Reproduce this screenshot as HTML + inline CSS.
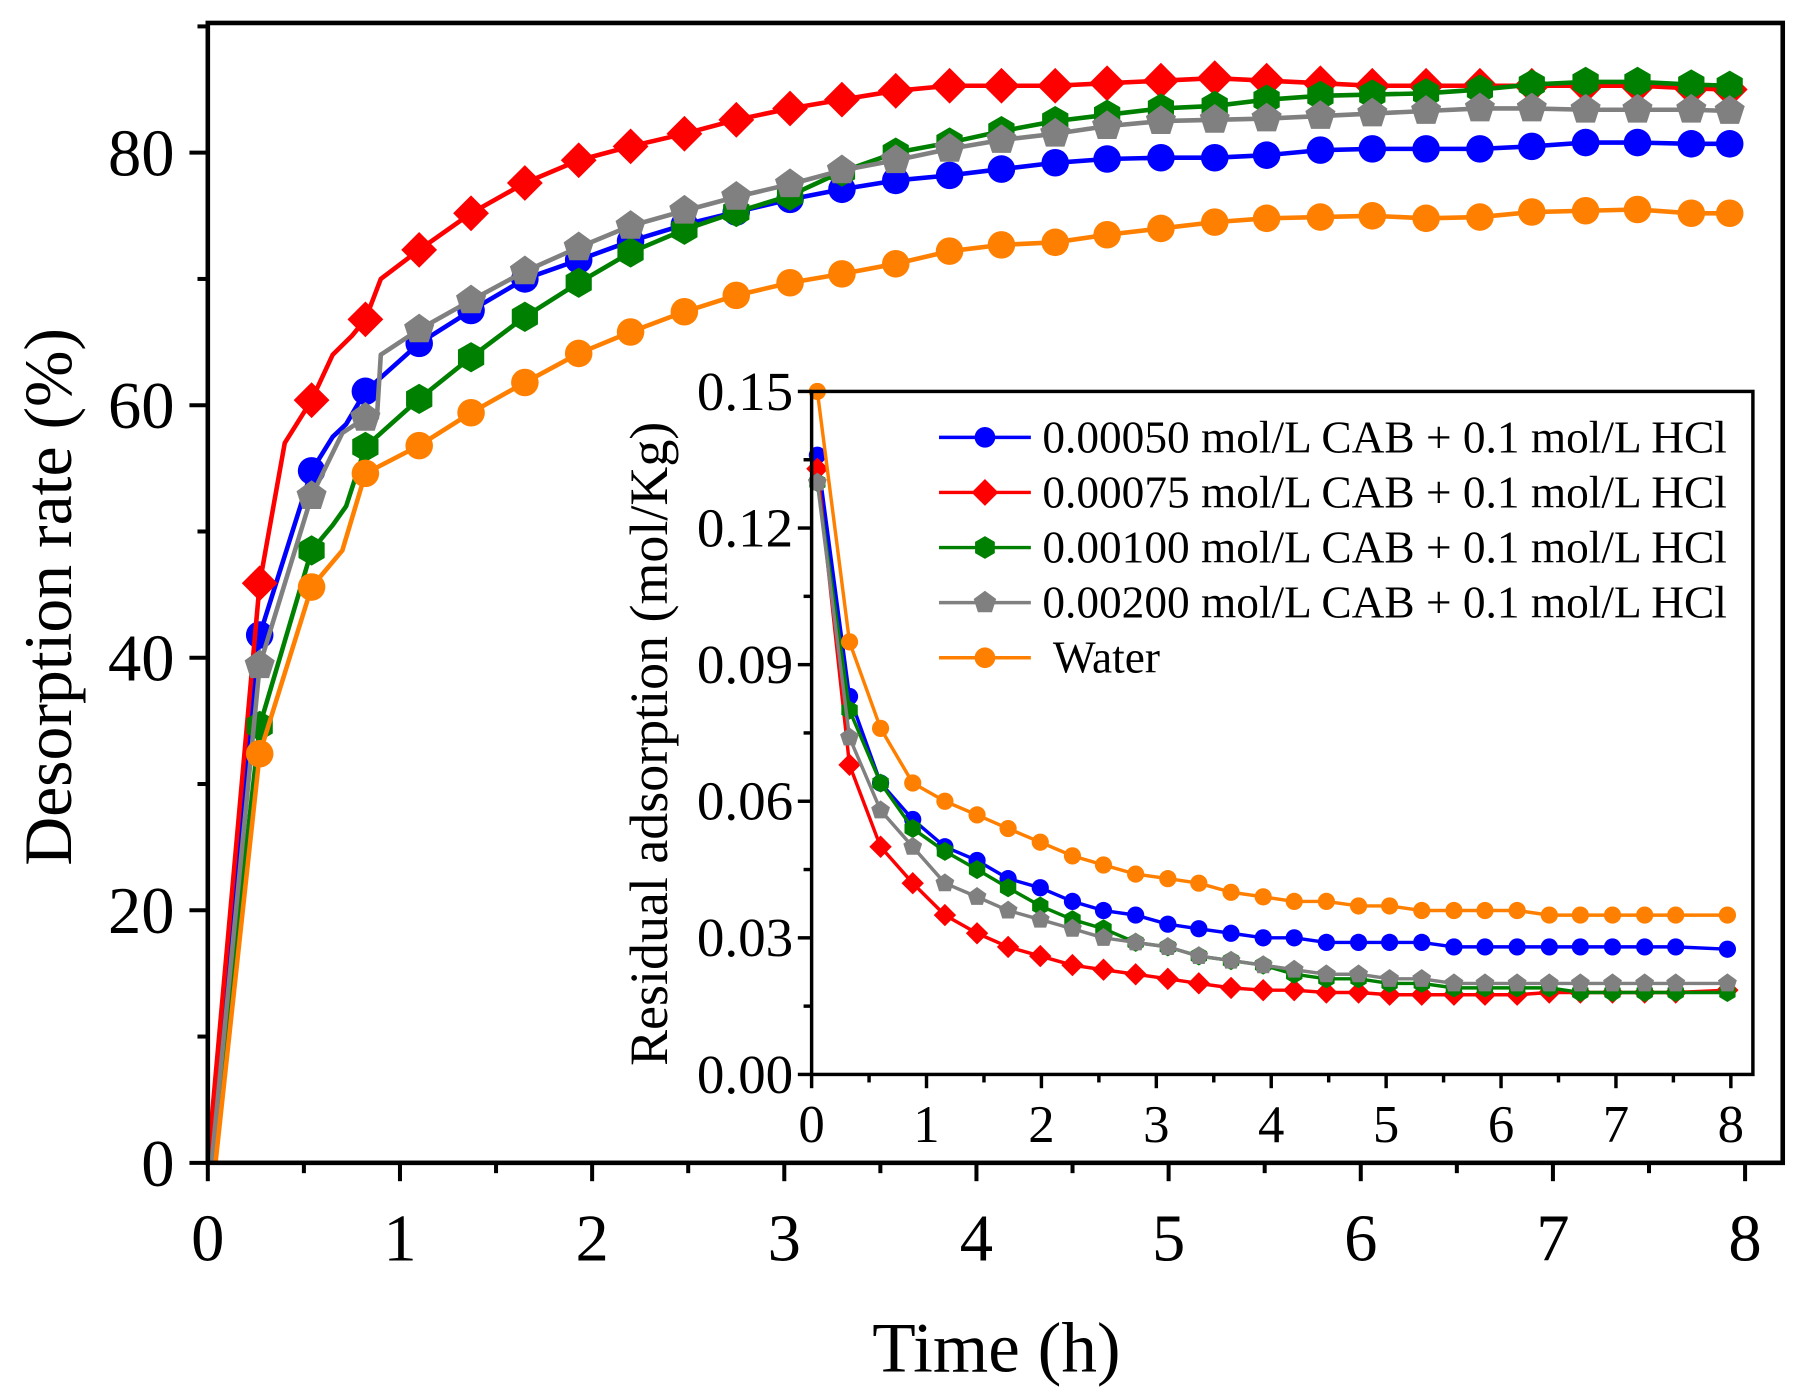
<!DOCTYPE html>
<html><head><meta charset="utf-8"><style>
html,body{margin:0;padding:0;background:#fff}
svg{display:block}
text{font-family:"Liberation Serif",serif;fill:#000}
</style></head><body>
<svg id="chart" width="1800" height="1397" viewBox="0 0 1568 1217" xmlns="http://www.w3.org/2000/svg"></svg>
<script>
// ---- Main chart data ----
const mainTimes=[0.27,0.54,0.82,1.1,1.37,1.65,1.93,2.2,2.48,2.75,3.03,3.3,3.58,3.86,4.13,4.41,4.68,4.96,5.24,5.51,5.79,6.06,6.34,6.62,6.89,7.17,7.44,7.72,7.92];
const mainBlue=[41.8,54.8,61.1,64.9,67.5,70,71.5,73,74.3,75.3,76.3,77.1,77.8,78.2,78.7,79.2,79.5,79.6,79.6,79.8,80.2,80.3,80.3,80.3,80.5,80.8,80.8,80.7,80.7];
const mainRed=[45.9,60.4,66.8,72.3,75.2,77.6,79.4,80.5,81.5,82.6,83.5,84.2,84.9,85.3,85.3,85.3,85.5,85.7,85.9,85.7,85.5,85.3,85.3,85.3,85.3,85.3,85.3,85.1,85.0];
const mainGreen=[34.6,48.5,56.7,60.5,63.8,67,69.7,72.1,73.9,75.3,76.6,78.5,80,80.8,81.7,82.5,83,83.5,83.7,84.2,84.5,84.6,84.7,85,85.4,85.6,85.6,85.4,85.3];
const mainGray=[39.4,52.8,59,66,68.3,70.6,72.5,74.2,75.4,76.5,77.5,78.6,79.4,80.3,81,81.5,82.1,82.5,82.6,82.7,82.9,83.1,83.3,83.5,83.5,83.4,83.4,83.4,83.3];
const mainOrange=[32.4,45.6,54.6,56.8,59.4,61.8,64.1,65.8,67.4,68.7,69.7,70.4,71.2,72.2,72.7,72.9,73.5,74,74.5,74.8,74.9,75,74.8,74.9,75.3,75.4,75.5,75.2,75.2];
// extra unmarked line points [t,v]
const extraBlue=[[0,0],[0.65,57.5],[0.72,58.5]];
const extraRed=[[0,0],[0.4,57],[0.65,64],[0.75,65.5],[0.9,70]];
const extraGreen=[[0.02,0],[0.65,50.5],[0.72,52]];
const extraGray=[[0.02,0],[0.7,57.8],[0.88,59],[0.9,64]];
const extraOrange=[[0.04,0],[0.7,48.5]];
// ---- Inset data ----
const insetTimes=[0.05,0.33,0.6,0.88,1.16,1.44,1.71,1.99,2.27,2.54,2.82,3.1,3.37,3.65,3.93,4.2,4.48,4.76,5.03,5.31,5.59,5.86,6.14,6.42,6.69,6.97,7.25,7.52,7.97];
const insBlue=[0.136,0.083,0.064,0.056,0.050,0.047,0.043,0.041,0.038,0.036,0.035,0.033,0.032,0.031,0.030,0.030,0.029,0.029,0.029,0.029,0.028,0.028,0.028,0.028,0.028,0.028,0.028,0.028,0.0275];
const insRed=[0.133,0.068,0.050,0.042,0.035,0.031,0.028,0.026,0.024,0.023,0.022,0.021,0.020,0.019,0.0185,0.0185,0.018,0.018,0.0175,0.0175,0.0175,0.0175,0.0175,0.018,0.018,0.018,0.018,0.018,0.0185];
const insGreen=[0.130,0.080,0.064,0.054,0.049,0.045,0.041,0.037,0.034,0.032,0.029,0.028,0.026,0.025,0.024,0.022,0.021,0.021,0.020,0.020,0.019,0.019,0.019,0.019,0.018,0.018,0.018,0.018,0.018];
const insGray=[0.130,0.074,0.058,0.050,0.042,0.039,0.036,0.034,0.032,0.030,0.029,0.028,0.026,0.025,0.024,0.023,0.022,0.022,0.021,0.021,0.020,0.020,0.020,0.020,0.020,0.020,0.020,0.020,0.020];
const insOrange=[0.150,0.095,0.076,0.064,0.060,0.057,0.054,0.051,0.048,0.046,0.044,0.043,0.042,0.040,0.039,0.038,0.038,0.037,0.037,0.036,0.036,0.036,0.036,0.035,0.035,0.035,0.035,0.035,0.035];
const legendLabels=["0.00050 mol/L CAB + 0.1 mol/L HCl","0.00075 mol/L CAB + 0.1 mol/L HCl","0.00100 mol/L CAB + 0.1 mol/L HCl","0.00200 mol/L CAB + 0.1 mol/L HCl"," Water"];
const mainXTicks=[0,1,2,3,4,5,6,7,8];
const mainYTicks=[0,20,40,60,80];
const insetYTicks=["0.00","0.03","0.06","0.09","0.12","0.15"];

const NS="http://www.w3.org/2000/svg";
const svg=document.getElementById('chart');
function el(tag,attrs,parent){const e=document.createElementNS(NS,tag);for(const k in attrs)e.setAttribute(k,attrs[k]);(parent||svg).appendChild(e);return e;}

const mx=t=>181+t*167.4, my=v=>1013-v*11;
const ix=t=>707+t*100.1, iy=v=>936-v/0.03*119;

function marker(shape,x,y,r,color,parent){
  let e;
  if(shape==='circle'){e=el('circle',{cx:x,cy:y,r:r,fill:color},parent);}
  else{
    let n=shape==='diamond'?4:shape==='hex'?6:5, pts=[];
    let rr=shape==='diamond'?r*1.3:shape==='hex'?r*1.1:r*1.15;
    for(let i=0;i<n;i++){const a=-Math.PI/2+i*2*Math.PI/n;pts.push((x+rr*Math.cos(a)).toFixed(1)+','+(y+rr*Math.sin(a)).toFixed(1));}
    e=el('polygon',{points:pts.join(' '),fill:color},parent);
  }
  return e;
}

const series=[
 {name:'cab-00050',c:'#0000ff',s:'circle',m:mainBlue,ex:extraBlue,ins:insBlue},
 {name:'cab-00075',c:'#ff0000',s:'diamond',m:mainRed,ex:extraRed,ins:insRed},
 {name:'cab-00100',c:'#008000',s:'hex',m:mainGreen,ex:extraGreen,ins:insGreen},
 {name:'cab-00200',c:'#808080',s:'pent',m:mainGray,ex:extraGray,ins:insGray},
 {name:'water',c:'#ff8000',s:'circle',m:mainOrange,ex:extraOrange,ins:insOrange}
];
const mainG=el('g',{});


series.forEach(sr=>{
  const pts=mainTimes.map((t,i)=>[t,sr.m[i]]).concat(sr.ex).sort((a,b)=>a[0]-b[0]);
  const ln=el('polyline',{points:pts.map(p=>mx(p[0]).toFixed(1)+','+my(p[1]).toFixed(1)).join(' '),fill:'none',stroke:sr.c,'stroke-width':4,'stroke-linejoin':'round'},mainG);
  
  
  mainTimes.forEach((t,i)=>{
    const mk=marker(sr.s,mx(t),my(sr.m[i]),12,sr.c,mainG);
    
    
  });
});
const mf=el('rect',{x:181,y:20,width:1372,height:993,fill:'none',stroke:'#000','stroke-width':4});


for(let t=0;t<=8;t+=0.5){const maj=t%1===0;el('line',{x1:mx(t),x2:mx(t),y1:1013,y2:1013+(maj?16:9),stroke:'#000','stroke-width':3.5});}
mainXTicks.forEach(t=>{const tx=el('text',{x:mx(t),y:1098,'font-size':58,'text-anchor':'middle'});tx.textContent=t;

});
for(let v=0;v<=90;v+=10){const maj=v%20===0;el('line',{x1:181,x2:181-(maj?16:9),y1:my(v),y2:my(v),stroke:'#000','stroke-width':3.5});}
mainYTicks.forEach(v=>{const tx=el('text',{x:152,y:my(v)+20,'font-size':58,'text-anchor':'end'});tx.textContent=v;

});
const xt=el('text',{x:868,y:1195,'font-size':62,'text-anchor':'middle'});xt.textContent='Time (h)';


const yt=el('text',{x:0,y:0,'font-size':59,'text-anchor':'middle',transform:'translate(62,520) rotate(-90)'});yt.textContent='Desorption rate (%)';



// Inset
el('rect',{x:707,y:341,width:820,height:595,fill:'#fff',stroke:'none'});
const insG=el('g',{});


series.forEach(sr=>{
  const ln=el('polyline',{points:insetTimes.map((t,i)=>ix(t).toFixed(1)+','+iy(sr.ins[i]).toFixed(1)).join(' '),fill:'none',stroke:sr.c,'stroke-width':3,'stroke-linejoin':'round'},insG);
  
  
  insetTimes.forEach((t,i)=>{
    const mk=marker(sr.s,ix(t),iy(sr.ins[i]),7.5,sr.c,insG);
    
    
  });
});
const inf=el('rect',{x:707,y:341,width:820,height:595,fill:'none',stroke:'#000','stroke-width':3});


for(let t=0;t<=8;t+=0.5){const maj=t%1===0;el('line',{x1:ix(t),x2:ix(t),y1:936,y2:936+(maj?12:7),stroke:'#000','stroke-width':3});}
mainXTicks.forEach(t=>{const tx=el('text',{x:ix(t),y:995,'font-size':46,'text-anchor':'middle'});tx.textContent=t;

});
for(let k=0;k<=10;k++){const v=k*0.015;const maj=k%2===0;el('line',{x1:707,x2:707-(maj?12:7),y1:iy(v),y2:iy(v),stroke:'#000','stroke-width':3});}
insetYTicks.forEach(s=>{const tx=el('text',{x:691,y:iy(parseFloat(s))+16,'font-size':48,'text-anchor':'end'});tx.textContent=s;

});
const iyt=el('text',{x:0,y:0,'font-size':47,'text-anchor':'middle',transform:'translate(581,648) rotate(-90)'});iyt.textContent='Residual adsorption (mol/Kg)';



// Legend
const lg=el('g',{});


series.forEach((sr,i)=>{
  const y=381+i*48;
  const g=el('g',{},lg);
  
  
  el('line',{x1:818,x2:898,y1:y,y2:y,stroke:sr.c,'stroke-width':3},g);
  marker(sr.s,858,y,9,sr.c,g);
  const tx=el('text',{x:908,y:y+13,'font-size':39.5},g);tx.textContent=legendLabels[i];
  tx.setAttribute('style','white-space:pre');
});
</script>
</body></html>
